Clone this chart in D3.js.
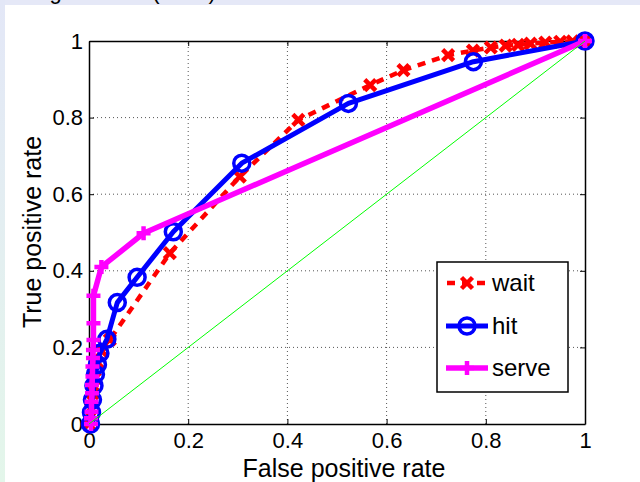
<!DOCTYPE html>
<html>
<head>
<meta charset="utf-8">
<script src="https://cdn.jsdelivr.net/npm/d3@7"></script>
<style>
  body { margin: 0; background: #fff; }
  svg { display: block; font-family: "Liberation Sans", Arial, sans-serif; }
</style>
</head>
<body>
<div class="chart"></div>
<script>
// ROC points
const waitFpr = [0, 0.004, 0.008, 0.012, 0.018, 0.026, 0.042, 0.163, 0.304, 0.422, 0.567, 0.634, 0.724, 0.774, 0.81, 0.84, 0.865, 0.89, 0.92, 0.95, 0.975, 1];
const waitTpr = [0, 0.04, 0.08, 0.12, 0.16, 0.19, 0.22, 0.446, 0.646, 0.794, 0.885, 0.924, 0.963, 0.975, 0.983, 0.988, 0.99, 0.993, 0.996, 0.998, 0.999, 1];

const hitFpr = [0.003, 0.005, 0.007, 0.01, 0.013, 0.017, 0.022, 0.036, 0.057, 0.097, 0.17, 0.308, 0.523, 0.775, 1];
const hitTpr = [0, 0.03, 0.063, 0.1, 0.13, 0.155, 0.185, 0.221, 0.317, 0.383, 0.502, 0.681, 0.837, 0.946, 1];

const serveFpr = [0.004, 0.004, 0.005, 0.005, 0.006, 0.006, 0.007, 0.007, 0.008, 0.008, 0.009, 0.009, 0.009, 0.025, 0.11, 1];
const serveTpr = [0, 0.015, 0.032, 0.058, 0.08, 0.102, 0.124, 0.15, 0.172, 0.193, 0.219, 0.263, 0.335, 0.41, 0.498, 1];

const seriesNames = ["wait", "hit", "serve"];
const xTicks = [0, 0.2, 0.4, 0.6, 0.8, 1];
const yTicks = [0, 0.2, 0.4, 0.6, 0.8, 1];
const xTickLabels = ["0", "0.2", "0.4", "0.6", "0.8", "1"];
const yTickLabels = ["0", "0.2", "0.4", "0.6", "0.8", "1"];
const titleText = "Testing data set (ROC)";

const w = 640, h = 482;
const font = "Liberation Sans, Arial, sans-serif";
const svg = d3.select("div.chart").append("svg").attr("width", w).attr("height", h);

// window frame strips
const grad = svg.append("defs").append("linearGradient")
    .attr("id", "side").attr("x1", 0).attr("y1", 0).attr("x2", 0).attr("y2", 1);
grad.append("stop").attr("offset", "0%").attr("stop-color", "#e3e7f7");
grad.append("stop").attr("offset", "100%").attr("stop-color", "#e3f6ea");
svg.append("rect").attr("x", 0).attr("y", 0).attr("width", w).attr("height", 5).attr("fill", "#e5e8f7");
svg.append("rect").attr("x", 0).attr("y", 0).attr("width", 5).attr("height", h).attr("fill", "url(#side)");
svg.append("text").attr("x", -8).attr("y", -1).attr("font-size", 22).attr("fill", "#000").text(titleText);

// scales
const xScale = d3.scaleLinear().domain([0, 1]).range([89, 585]);
const yScale = d3.scaleLinear().domain([0, 1]).range([424, 41]);

// dotted grid
svg.append("g").selectAll("line").data(xTicks.slice(1, -1)).enter().append("line")
    .attr("x1", d => xScale(d)).attr("x2", d => xScale(d))
    .attr("y1", yScale(0)).attr("y2", yScale(1))
    .attr("stroke", "#555").attr("stroke-dasharray", "1,3");
svg.append("g").selectAll("line").data(yTicks.slice(1, -1)).enter().append("line")
    .attr("y1", d => yScale(d)).attr("y2", d => yScale(d))
    .attr("x1", xScale(0)).attr("x2", xScale(1))
    .attr("stroke", "#555").attr("stroke-dasharray", "1,3");

// axes, ticks inside, box all round
const xAxis = d3.axisBottom(xScale).tickValues(xTicks).tickSizeInner(-5).tickSizeOuter(0).tickPadding(8).tickFormat((d, i) => xTickLabels[i]);
const yAxis = d3.axisLeft(yScale).tickValues(yTicks).tickSizeInner(-5).tickSizeOuter(0).tickPadding(6).tickFormat((d, i) => yTickLabels[i]);
const gx = svg.append("g").attr("transform", "translate(0," + yScale(0) + ")").call(xAxis);
const gy = svg.append("g").attr("transform", "translate(" + xScale(0) + ",0)").call(yAxis);
svg.append("g").attr("transform", "translate(0," + yScale(1) + ")")
    .call(d3.axisTop(xScale).tickValues(xTicks).tickSizeInner(-5).tickSizeOuter(0).tickFormat(""));
svg.append("g").attr("transform", "translate(" + xScale(1) + ",0)")
    .call(d3.axisRight(yScale).tickValues(yTicks).tickSizeInner(-5).tickSizeOuter(0).tickFormat(""));
svg.selectAll(".domain").attr("stroke", "#000").attr("stroke-width", 1.5);
svg.selectAll(".tick line").attr("stroke", "#000");
gx.selectAll("text").attr("font-size", 22).attr("fill", "#000").attr("font-family", font);
gy.selectAll("text").attr("font-size", 22).attr("fill", "#000").attr("font-family", font);

svg.append("text").attr("x", 344).attr("y", 477).attr("text-anchor", "middle").attr("font-size", 25).text("False positive rate");
svg.append("text").attr("transform", "translate(41,232) rotate(-90)").attr("text-anchor", "middle").attr("font-size", 25).text("True positive rate");

const line = d3.line().x(d => xScale(d[0])).y(d => yScale(d[1]));
const toPts = (xs, ys) => xs.map((x, i) => [x, ys[i]]);

const crossPath = s => "M" + (-s) + "," + (-s) + "L" + s + "," + s + "M" + (-s) + "," + s + "L" + s + "," + (-s);
const plusPath = s => "M" + (-s) + ",0L" + s + ",0M0," + (-s) + "L0," + s;

// wait
const waitPts = toPts(waitFpr, waitTpr);
svg.append("path").datum(waitPts).attr("d", line).attr("fill", "none")
    .attr("stroke", "#ff0000").attr("stroke-width", 4.5).attr("stroke-dasharray", "8,7");
svg.append("g").selectAll("path").data(waitPts).enter().append("path")
    .attr("transform", d => "translate(" + xScale(d[0]) + "," + yScale(d[1]) + ")")
    .attr("d", crossPath(5.5)).attr("stroke", "#ff0000").attr("stroke-width", 4.5).attr("fill", "none");

// hit
const hitPts = toPts(hitFpr, hitTpr);
svg.append("path").datum(hitPts).attr("d", line).attr("fill", "none")
    .attr("stroke", "#0000ff").attr("stroke-width", 5).attr("stroke-linejoin", "round");
svg.append("g").selectAll("circle").data(hitPts).enter().append("circle")
    .attr("cx", d => xScale(d[0])).attr("cy", d => yScale(d[1])).attr("r", 8)
    .attr("stroke", "#0000ff").attr("stroke-width", 3.5).attr("fill", "none");

// serve
const servePts = toPts(serveFpr, serveTpr);
svg.append("path").datum(servePts).attr("d", line).attr("fill", "none")
    .attr("stroke", "#ff00ff").attr("stroke-width", 5.5).attr("stroke-linejoin", "round");
svg.append("g").selectAll("path").data(servePts).enter().append("path")
    .attr("transform", d => "translate(" + xScale(d[0]) + "," + yScale(d[1]) + ")")
    .attr("d", plusPath(7)).attr("stroke", "#ff00ff").attr("stroke-width", 4.5).attr("fill", "none");

// chance diagonal
svg.append("path").datum([[0, 0], [1, 1]]).attr("d", line)
    .attr("stroke", "#00ff00").attr("stroke-width", 1).attr("fill", "none");

// legend
const lg = svg.append("g");
lg.append("rect").attr("x", 437).attr("y", 262).attr("width", 131).attr("height", 130)
    .attr("fill", "#fff").attr("stroke", "#000").attr("stroke-width", 1.5);
const legendY = [283, 326, 368];
seriesNames.forEach((name, i) => {
    const y = legendY[i];
    const l = lg.append("line").attr("x1", 446).attr("x2", 488).attr("y1", y).attr("y2", y);
    if (i === 0) {
        l.attr("stroke", "#ff0000").attr("stroke-width", 4.5).attr("stroke-dasharray", "8,7").attr("stroke-dashoffset", -1);
        lg.append("path").attr("transform", "translate(467," + y + ")").attr("d", crossPath(5.5))
            .attr("stroke", "#ff0000").attr("stroke-width", 4.5).attr("fill", "none");
    } else if (i === 1) {
        l.attr("stroke", "#0000ff").attr("stroke-width", 5);
        lg.append("circle").attr("cx", 467).attr("cy", y).attr("r", 8)
            .attr("stroke", "#0000ff").attr("stroke-width", 3.5).attr("fill", "none");
    } else {
        l.attr("stroke", "#ff00ff").attr("stroke-width", 5.5);
        lg.append("path").attr("transform", "translate(467," + y + ")").attr("d", plusPath(7))
            .attr("stroke", "#ff00ff").attr("stroke-width", 4.5).attr("fill", "none");
    }
    lg.append("text").attr("x", 492).attr("y", y + 8).attr("font-size", 24).text(name);
});
</script>
</body>
</html>
